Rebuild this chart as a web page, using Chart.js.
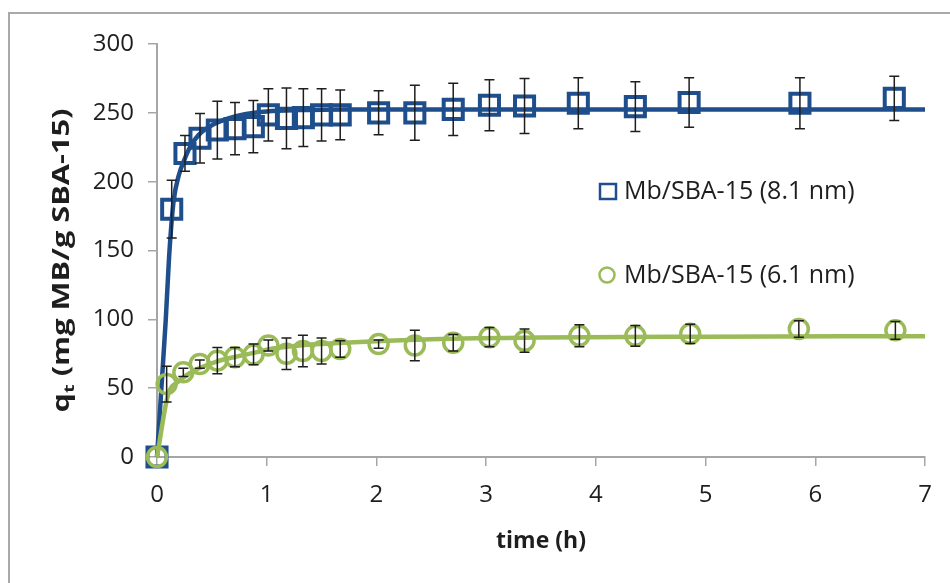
<!DOCTYPE html>
<html lang="en">
<head>
<meta charset="UTF-8">
<title>Mb/SBA-15 adsorption kinetics</title>
<script src="https://cdn.jsdelivr.net/npm/chart.js"></script>
<style>
  html, body { margin: 0; padding: 0; background: #fff; overflow: hidden; }
  #wrap { position: relative; width: 950px; height: 583px; overflow: hidden; }
  #frame {
    position: absolute; left: 8px; top: 12px; width: 960px; height: 600px;
    border-left: 2px solid #a9a9a9; border-top: 2px solid #a9a9a9;
  }
  #kinetics { position: absolute; left: 0; top: 0; }
</style>
</head>
<body>
<div id="wrap">
  <div id="frame"></div>
  <canvas id="kinetics" width="950" height="583"></canvas>
</div>

<script>
// measured uptake, 8.1 nm pores
const timeBlue = [0, 0.134, 0.255, 0.392, 0.55, 0.711, 0.878, 1.015, 1.18, 1.334, 1.5, 1.67, 2.02, 2.35, 2.7, 3.03, 3.35, 3.84, 4.36, 4.85, 5.86, 6.72];
const qBlue = [0, 180, 220.5, 231.5, 237.5, 238.5, 240, 248.5, 246, 246.5, 248.5, 248.5, 250, 250, 252.5, 255.5, 255, 257, 254.5, 257.5, 257, 260.5];
const errBlue = [0, 21, 13, 18, 21, 19, 19, 19, 22, 21, 19, 18, 16, 20, 19, 18.5, 20, 18.5, 18, 18, 18.5, 16];

// measured uptake, 6.1 nm pores
const timeGreen = [0, 0.088, 0.24, 0.39, 0.55, 0.71, 0.88, 1.015, 1.18, 1.33, 1.5, 1.67, 2.02, 2.35, 2.7, 3.03, 3.35, 3.85, 4.36, 4.86, 5.85, 6.73];
const qGreen = [0, 53, 61.5, 67.5, 70, 72.5, 74.5, 81, 75, 77, 77, 78.5, 82, 81, 83, 87, 84.5, 88, 88, 89.5, 93, 92];
const errGreen = [0, 13, 3, 3, 9.5, 7, 7.5, 4, 11.5, 11.5, 9.5, 6, 3, 11, 6, 7, 8.5, 8, 7.5, 7, 6, 6.5];

// kinetic model curves
const fitTimeBlue = [0, 0.04, 0.08, 0.11, 0.15, 0.2, 0.25, 0.3, 0.38, 0.5, 0.65, 0.8, 1.0, 1.3, 1.7, 2.5, 4, 7];
const fitQBlue = [0, 50, 100, 145, 185, 205, 216, 225, 234, 241, 246, 249, 251, 252, 252.5, 252.5, 252.5, 252.5];
const fitTimeGreen = [0, 0.1, 0.2, 0.3, 0.4, 0.55, 0.7, 0.9, 1.0, 1.3, 1.7, 2.5, 3.5, 5, 7];
const fitQGreen = [0, 45, 55, 61, 65, 69.5, 72.5, 76, 78, 81, 83, 85.5, 86.8, 87.4, 87.8];

const seriesLabels = ['Mb/SBA-15 (8.1 nm)', 'Mb/SBA-15 (6.1 nm)'];
const xTicks = [0, 1, 2, 3, 4, 5, 6, 7];
const yTicks = [0, 50, 100, 150, 200, 250, 300];

const BLUE = '#1f4e8c';
const GREEN = '#9bbb59';
const AXIS = '#a6a6a6';
const INK = '#1e1e1e';
const FONT = '"Open Sans", sans-serif';

const pts = (xs, ys) => xs.map((x, i) => ({ x: x, y: ys[i] }));

// vertical error bars with caps, placed through the chart scales
const errorBars = {
  id: 'errorBars',
  afterDatasetsDraw(chart) {
    const ctx = chart.ctx;
    const xs = chart.scales.x, ys = chart.scales.y;
    const sets = [[timeBlue, qBlue, errBlue], [timeGreen, qGreen, errGreen]];
    ctx.save();
    ctx.strokeStyle = INK;
    ctx.lineWidth = 1.5;
    sets.forEach(([t, q, e]) => {
      t.forEach((tv, i) => {
        if (!e[i]) return;
        const px = xs.getPixelForValue(tv);
        const top = ys.getPixelForValue(q[i] + e[i]);
        const bot = ys.getPixelForValue(q[i] - e[i]);
        ctx.beginPath();
        ctx.moveTo(px, top); ctx.lineTo(px, bot);
        ctx.moveTo(px - 5, top); ctx.lineTo(px + 5, top);
        ctx.moveTo(px - 5, bot); ctx.lineTo(px + 5, bot);
        ctx.stroke();
      });
    });
    ctx.restore();
  }
};

// y axis title with subscript t
const yTitle = {
  id: 'yTitle',
  afterDraw(chart) {
    const ctx = chart.ctx;
    const area = chart.chartArea;
    const big = 'bold 23px ' + FONT;
    const small = 'bold 15px ' + FONT;
    const rest = ' (mg MB/g SBA-15)';
    ctx.save();
    ctx.font = big;
    const wq = ctx.measureText('q').width;
    const wr = ctx.measureText(rest).width;
    ctx.font = small;
    const wt = ctx.measureText('t').width;
    const total = wq + wt + wr;
    const sx = 304 / total;
    ctx.translate(69, (area.top + area.bottom) / 2 + 10);
    ctx.rotate(-Math.PI / 2);
    ctx.scale(sx, 1);
    ctx.fillStyle = INK;
    ctx.textBaseline = 'alphabetic';
    let x = -total / 2;
    ctx.font = big;
    ctx.fillText('q', x, 0);
    x += wq;
    ctx.font = small;
    ctx.fillText('t', x, 5);
    x += wt;
    ctx.font = big;
    ctx.fillText(rest, x, 0);
    ctx.restore();
  }
};

// legend inside the plot area
const legendBox = {
  id: 'legendBox',
  afterDraw(chart) {
    const ctx = chart.ctx;
    ctx.save();
    ctx.font = '25px ' + FONT;
    ctx.fillStyle = INK;
    ctx.textBaseline = 'middle';
    ctx.lineWidth = 2.5;
    ctx.strokeStyle = BLUE;
    ctx.strokeRect(600, 184, 16, 15);
    ctx.fillText(seriesLabels[0], 624, 192);
    ctx.strokeStyle = GREEN;
    ctx.beginPath();
    ctx.arc(607, 275, 7.5, 0, Math.PI * 2);
    ctx.stroke();
    ctx.fillText(seriesLabels[1], 624, 276);
    ctx.restore();
  }
};

function draw() {
  Chart.defaults.font.family = FONT;
  Chart.defaults.color = INK;

  new Chart(document.getElementById('kinetics'), {
    type: 'scatter',
    data: {
      datasets: [
        {
          label: seriesLabels[1] + ' fit',
          data: pts(fitTimeGreen, fitQGreen),
          showLine: true, pointRadius: 0,
          borderColor: GREEN, borderWidth: 4.5,
          cubicInterpolationMode: 'monotone',
          clip: false, order: 1
        },
        {
          label: seriesLabels[1],
          data: pts(timeGreen, qGreen),
          showLine: false, pointStyle: 'circle', pointRadius: 9.5,
          pointBorderWidth: 3.5, pointBorderColor: GREEN,
          pointBackgroundColor: 'rgba(0,0,0,0)',
          clip: false, order: 2
        },
        {
          label: seriesLabels[0] + ' fit',
          data: pts(fitTimeBlue, fitQBlue),
          showLine: true, pointRadius: 0,
          borderColor: BLUE, borderWidth: 4.5,
          cubicInterpolationMode: 'monotone',
          clip: false, order: 3
        },
        {
          label: seriesLabels[0],
          data: pts(timeBlue, qBlue),
          showLine: false, pointStyle: 'rect', pointRadius: 13.5,
          pointBorderWidth: 4, pointBorderColor: BLUE,
          pointBackgroundColor: 'rgba(0,0,0,0)',
          clip: false, order: 4
        }
      ]
    },
    options: {
      responsive: false,
      animation: false,
      events: [],
      layout: { padding: { top: 44, right: 25, left: 0, bottom: 0 } },
      plugins: { legend: { display: false }, tooltip: { enabled: false } },
      scales: {
        x: {
          type: 'linear', min: 0, max: 7,
          afterBuildTicks: s => { s.ticks = xTicks.map(v => ({ value: v })); },
          afterFit: s => { s.height = 126; },
          ticks: { font: { size: 24 }, color: INK, padding: 15 },
          grid: { drawOnChartArea: false, tickLength: 9, color: AXIS, lineWidth: 1.5 },
          border: { color: AXIS, width: 2 },
          title: {
            display: true, text: 'time (h)', color: INK,
            font: { size: 23, weight: 'bold' },
            padding: { top: 0, bottom: 28 }
          }
        },
        y: {
          type: 'linear', min: 0, max: 300,
          afterBuildTicks: s => { s.ticks = yTicks.map(v => ({ value: v })); },
          afterFit: s => { s.width = 157; },
          ticks: { font: { size: 24 }, color: INK, padding: 14 },
          grid: { drawOnChartArea: false, tickLength: 9, color: AXIS, lineWidth: 1.5 },
          border: { color: AXIS, width: 2 }
        }
      }
    },
    plugins: [errorBars, yTitle, legendBox]
  });
}

Promise.all([
  document.fonts.load('24px "Open Sans"'),
  document.fonts.load('bold 22px "Open Sans"')
]).then(draw, draw);
</script>
</body>
</html>
